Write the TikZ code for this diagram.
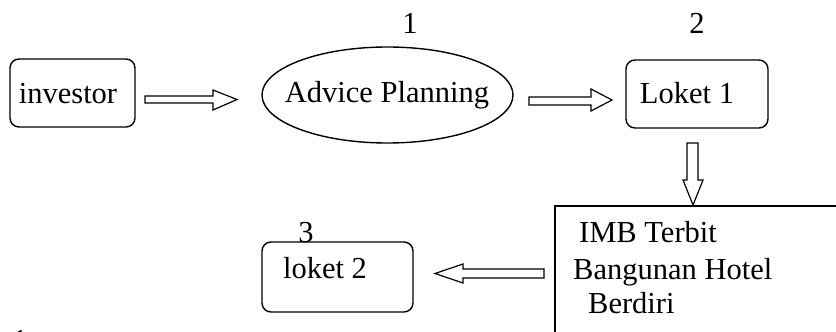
\documentclass[tikz,border=0pt]{standalone}
\usepackage{fontspec}
\setmainfont{Liberation Serif}
\usetikzlibrary{shapes.geometric}
\begin{document}
\begin{tikzpicture}[x=1pt,y=-1pt,
  every node/.style={font=\fontsize{30.5}{36}\selectfont, inner sep=0pt},
  rbox/.style={draw, line width=1.4pt, rounded corners=9pt},
  plainbox/.style={draw, line width=1.4pt},
  oval/.style={draw, ellipse, line width=1.4pt},
  txt/.style={anchor=base},
  txtl/.style={anchor=base west},
  blockarr/.style={draw, line width=1.2pt, fill=white, line join=miter}]
\useasboundingbox (0,0) rectangle (836,332);

% boxes and oval
\node[rbox, minimum width=125pt, minimum height=68pt] (inv) at (72.5,93) {};
\node[oval, minimum width=251pt, minimum height=96pt] (adv) at (387.5,95) {};
\node[rbox, minimum width=142pt, minimum height=68pt] (lk1) at (697,94) {};
\node[rbox, minimum width=151pt, minimum height=70pt] (lk2) at (337.5,277) {};
\draw[plainbox] (870,206) -- (555,206) -- (555,345);

% texts
\node[txt] (tinv) at (68,103) {investor};
\node[txt] (tadv) at (387,102) {Advice Planning};
\node[txt] (tlk1) at (687,103) {Loket 1};
\node[txt] (tlk2) at (325,278) {loket 2};
\node[txt] (n1) at (410,33) {1};
\node[txt] (n2) at (697,33) {2};
\node[txt] (n3) at (306,242) {3};
\node[txtl] (t1) at (579,242) {IMB Terbit};
\node[txtl] (t2) at (573,279) {Bangunan Hotel};
\node[txtl] (t3) at (588,313) {Berdiri};
\node[txt] (n1b) at (20,350) {1};

% block arrows between the steps
\draw[blockarr] (145,96) -- (213,96) -- (213,90) -- (237,99.5) -- (213,110) -- (213,103) -- (145,103) -- cycle;
\draw[blockarr] (529,97) -- (591,97) -- (591,89) -- (612,100) -- (591,111) -- (591,105) -- (529,105) -- cycle;
\draw[blockarr] (687,143) -- (698,143) -- (698,180) -- (703,180) -- (693,205) -- (683,180) -- (687,180) -- cycle;
\draw[blockarr] (544,269) -- (463,269) -- (463,264) -- (435,273.5) -- (463,283) -- (463,278) -- (544,278) -- cycle;
\end{tikzpicture}
\end{document}
